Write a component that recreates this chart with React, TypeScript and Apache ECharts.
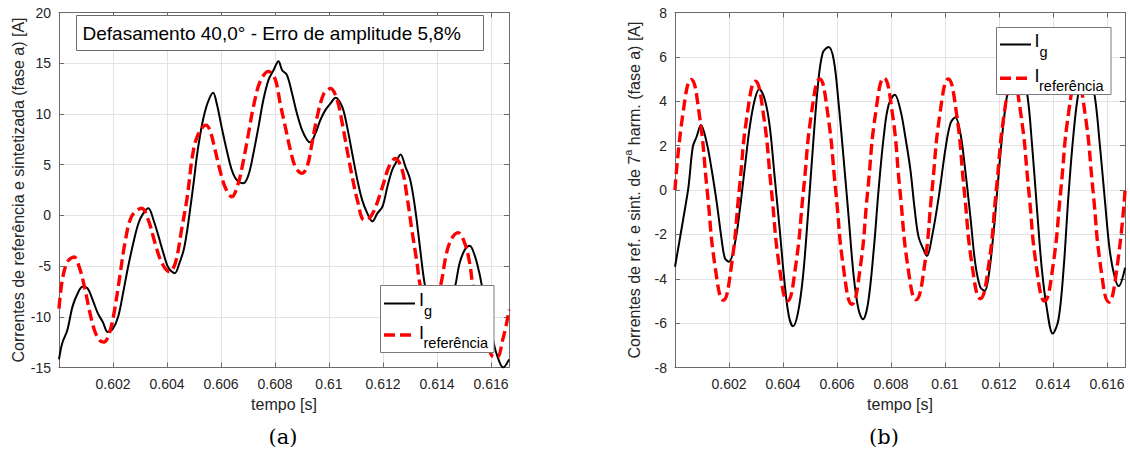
import React, { useEffect, useRef } from "react";
import * as echarts from "echarts";

// ---------- data ----------
// (a) left plot: total current, I_g (black) and I_referência (red dashed)
const tA_g = [
  0.6, 0.60012, 0.60031, 0.6005, 0.60069, 0.60087, 0.60106, 0.60125, 0.60144, 0.60162,
  0.60181, 0.602, 0.60219, 0.60237, 0.60256, 0.60275, 0.60294, 0.60312, 0.60331, 0.6035,
  0.60369, 0.60387, 0.60406, 0.60429, 0.60446, 0.60462, 0.60475, 0.60487, 0.605, 0.60512,
  0.60531, 0.6055, 0.60571, 0.60584, 0.60602, 0.60621, 0.6064, 0.60658, 0.60683, 0.60702,
  0.6072, 0.60739, 0.60757, 0.60776, 0.60795, 0.60813, 0.60826, 0.60844, 0.60863, 0.60881,
  0.609, 0.60919, 0.60931, 0.6095, 0.60968, 0.60987, 0.61006, 0.61024, 0.61049, 0.61067,
  0.61086, 0.61105, 0.61123, 0.61142, 0.61161, 0.61179, 0.61198, 0.61216, 0.61234, 0.61246,
  0.61265, 0.61283, 0.61301, 0.6132, 0.61338, 0.61354, 0.61375, 0.614, 0.61425, 0.61448,
  0.61468, 0.61484, 0.61503, 0.61521, 0.61539, 0.61557, 0.61566, 0.6159, 0.6161, 0.61625,
  0.61645, 0.61667,
];
const iA_g = [
  -14.2, -12.6, -11.3, -9.0, -7.7, -7.04, -7.2, -8.36, -9.67, -10.5,
  -11.5, -11.15, -10.0, -7.7, -5.07, -2.76, -0.8, 0.2, 0.7, -0.46,
  -2.1, -3.75, -5.2, -5.7, -4.7, -3.4, -1.45, 0.86, 3.5, 6.1,
  9.1, 11.05, 12.1, 11.05, 8.75, 6.45, 4.47, 3.5, 3.16, 4.0,
  6.1, 8.75, 11.4, 13.36, 14.34, 15.2, 14.34, 13.85, 12.04, 10.07,
  8.42, 7.43, 7.2, 8.1, 9.4, 10.4, 11.05, 11.6, 10.7, 8.75,
  6.1, 3.5, 1.5, 0.2, -0.6, 0.2, 0.86, 2.8, 4.47, 5.1,
  6.0, 4.8, 3.5, 0.5, -3.4, -6.7, -9.2, -10.3, -10.0, -8.8,
  -6.9, -4.7, -3.4, -3.0, -3.9, -5.7, -6.9, -9.8, -12.6, -14.0,
  -15.0, -14.2,
];
const tA_ref = [
  0.6, 0.60012, 0.60031, 0.60056, 0.60075, 0.60094, 0.60112, 0.60131, 0.6015, 0.60166,
  0.60187, 0.60206, 0.60225, 0.60244, 0.60269, 0.60306, 0.60331, 0.60356, 0.60381, 0.60409,
  0.60431, 0.60456, 0.60475, 0.60494, 0.60512, 0.60544, 0.60559, 0.60578, 0.60596, 0.60615,
  0.6064, 0.60664, 0.60683, 0.60702, 0.6072, 0.60745, 0.60776, 0.60801, 0.60819, 0.60838,
  0.60857, 0.60875, 0.609, 0.60919, 0.60937, 0.60956, 0.60981, 0.61006, 0.6103, 0.61049,
  0.61067, 0.61086, 0.61105, 0.6113, 0.61152, 0.61173, 0.61198, 0.61222, 0.61246, 0.61271,
  0.61289, 0.61307, 0.61326, 0.61338, 0.6136, 0.6138, 0.614, 0.61415, 0.61435, 0.61454,
  0.61478, 0.61503, 0.61521, 0.61533, 0.6156, 0.61585, 0.6161, 0.61625, 0.61643, 0.61655,
  0.61667,
];
const iA_ref = [
  -9.2, -6.4, -4.6, -4.1, -5.1, -7.0, -9.3, -11.3, -12.3, -12.5,
  -11.6, -9.3, -6.05, -2.76, -0.1, 0.7, -0.46, -2.76, -4.7, -5.56,
  -4.7, -1.1, 1.8, 5.8, 7.76, 8.9, 8.4, 6.45, 4.47, 2.8,
  1.84, 3.16, 5.4, 8.1, 10.7, 13.2, 14.2, 13.4, 11.05, 8.75,
  6.45, 4.8, 4.14, 4.8, 7.1, 9.7, 12.0, 12.5, 11.4, 9.1,
  6.45, 3.8, 1.5, -0.46, -0.2, 0.86, 2.8, 4.8, 5.6, 4.47,
  1.84, -1.45, -4.7, -6.9, -8.3, -8.6, -7.8, -6.7, -3.75, -2.3,
  -1.7, -2.76, -4.7, -6.9, -9.8, -12.5, -13.95, -13.95, -12.3, -11.0,
  -9.3,
];

// (b) right plot: 7th harmonic, I_g (black) and I_referência (red dashed)
const tB_g = [
  0.6, 0.60032, 0.6005, 0.60066, 0.6008, 0.60096, 0.60118, 0.60136, 0.60155, 0.60173,
  0.60185, 0.602, 0.60222, 0.6024, 0.60259, 0.60277, 0.60296, 0.60312, 0.60333, 0.60351,
  0.60369, 0.60388, 0.60406, 0.60422, 0.60437, 0.60455, 0.60474, 0.60492, 0.6051, 0.60529,
  0.60547, 0.60569, 0.60588, 0.60606, 0.60625, 0.60643, 0.60662, 0.6068, 0.60696, 0.60715,
  0.60736, 0.60754, 0.60773, 0.60791, 0.60814, 0.60835, 0.60853, 0.60872, 0.60888, 0.60902,
  0.60921, 0.60933, 0.60952, 0.60977, 0.61001, 0.6102, 0.61038, 0.61057, 0.61075, 0.61094,
  0.61112, 0.6113, 0.61147, 0.61163, 0.61182, 0.612, 0.61218, 0.61237, 0.61262, 0.61285,
  0.61304, 0.61322, 0.61341, 0.61359, 0.61378, 0.61399, 0.6142, 0.61439, 0.61457, 0.61475,
  0.61494, 0.61515, 0.61535, 0.61555, 0.61573, 0.61591, 0.6161, 0.61628, 0.61643, 0.61667,
];
const iB_g = [
  -3.46, -1.2, 0.15, 1.95, 2.4, 2.93, 2.1, 0.9, -0.6, -2.26,
  -3.08, -3.23, -2.4, -0.9, 1.05, 2.86, 4.1, 4.54, 4.06, 2.86,
  0.6, -1.8, -4.2, -5.7, -6.14, -5.56, -3.9, -1.2, 1.8, 4.66,
  6.17, 6.44, 5.86, 3.9, 1.35, -1.2, -3.9, -5.4, -5.83, -5.1,
  -2.7, 0.0, 2.4, 3.83, 4.29, 3.6, 2.4, 0.9, -0.9, -2.1,
  -2.7, -2.98, -2.1, -0.3, 1.8, 3.0, 3.28, 2.56, 0.9, -1.2,
  -3.3, -4.36, -4.55, -3.76, -1.65, 0.9, 3.16, 4.66, 5.2, 5.0,
  4.36, 2.1, -0.9, -3.6, -5.4, -6.47, -5.86, -3.6, -0.3, 2.4,
  4.36, 5.2, 5.1, 4.2, 2.1, -0.3, -2.7, -3.9, -4.33, -3.5,
];
const tB_ref = [
  0.6, 0.6003, 0.6006, 0.60089, 0.60119, 0.60149, 0.60179, 0.60208,
  0.60238, 0.60268, 0.60298, 0.60327, 0.60357, 0.60387, 0.60417, 0.60446,
  0.60476, 0.60506, 0.60536, 0.60565, 0.60595, 0.60625, 0.60655, 0.60685,
  0.60714, 0.60744, 0.60774, 0.60804, 0.60833, 0.60863, 0.60893, 0.60923,
  0.60952, 0.60982, 0.61012, 0.61042, 0.61071, 0.61101, 0.61131, 0.61161,
  0.6119, 0.6122, 0.6125, 0.6128, 0.6131, 0.61339, 0.61369, 0.61399,
  0.61429, 0.61458, 0.61488, 0.61518, 0.61548, 0.61577, 0.61607, 0.61637,
  0.61667,
];
const iB_ref = [
  0, 3.5, 4.98, 3.5, 0, -3.5, -4.97, -3.5,
  0, 3.45, 4.9, 3.45, 0, -3.5, -5.0, -3.5,
  0, 3.5, 5.0, 3.5, 0, -3.6, -5.15, -3.6,
  0, 3.55, 5.05, 3.55, 0, -3.5, -4.95, -3.5,
  0, 3.5, 5.0, 3.5, 0, -3.45, -4.9, -3.45,
  0, 3.5, 5.0, 3.5, 0, -3.5, -5.0, -3.5,
  0, 3.5, 5.0, 3.5, 0, -3.5, -5.05, -3.5,
  0,
];

const xTickMin = 0.6;
const xTickMax = 0.616667;
const xTickStep = 0.002;
const yA = { min: -15, max: 20, step: 5 };
const yB = { min: -8, max: 8, step: 2 };

const annotation = "Defasamento 40,0° - Erro de amplitude 5,8%";
const xName = "tempo [s]";
const yNameA = "Correntes de referência e sintetizada (fase a) [A]";
const yNameB = "{n|Correntes de ref. e sint. de 7}{s|a}{n| harm. (fase a) [A]}";
const legendMain = "I";
const legendSubs = ["g", "referência"];
const captions = ["(a)", "(b)"];

const SANS = "'Liberation Sans', Arial, sans-serif";
const SERIF = "'DejaVu Serif', 'Liberation Serif', serif";
const AXIS_COLOR = "#6b6b6b";
const TEXT_COLOR = "#262626";
const GRID_COLOR = "#e3e3e3";
const RED = "#ff0000";

function pairs(t: number[], v: number[]) {
  return t.map((x, i) => [x, v[i]]);
}

function xAxisPair(gridIndex: number) {
  const base = {
    type: "value" as const,
    gridIndex,
    min: xTickMin,
    max: xTickMax,
    interval: xTickStep,
    axisLine: { show: true, onZero: false, lineStyle: { color: AXIS_COLOR, width: 1 } },
    axisTick: { show: true, inside: true, length: 5, lineStyle: { color: AXIS_COLOR } },
  };
  return [
    {
      ...base,
      position: "bottom",
      name: xName,
      nameLocation: "middle",
      nameGap: 29,
      nameTextStyle: { fontFamily: SANS, fontSize: 16, color: TEXT_COLOR },
      axisLabel: {
        show: true,
        fontFamily: SANS,
        fontSize: 14,
        color: TEXT_COLOR,
        margin: 9,
        showMinLabel: false,
        showMaxLabel: false,
      },
      splitLine: { show: true, lineStyle: { color: GRID_COLOR, width: 1 } },
    },
    {
      ...base,
      position: "top",
      axisLabel: { show: false },
      splitLine: { show: false },
    },
  ];
}

function yAxisPair(gridIndex: number, r: { min: number; max: number; step: number }, name: string, rich?: any) {
  const base = {
    type: "value" as const,
    gridIndex,
    min: r.min,
    max: r.max,
    interval: r.step,
    axisLine: { show: true, onZero: false, lineStyle: { color: AXIS_COLOR, width: 1 } },
    axisTick: { show: true, inside: true, length: 5, lineStyle: { color: AXIS_COLOR } },
  };
  return [
    {
      ...base,
      position: "left",
      name,
      nameLocation: "middle",
      nameRotate: 90,
      nameGap: 33,
      nameTextStyle: rich
        ? { rich }
        : { fontFamily: SANS, fontSize: 16, color: TEXT_COLOR },
      axisLabel: { show: true, fontFamily: SANS, fontSize: 14, color: TEXT_COLOR, margin: 8 },
      splitLine: { show: true, lineStyle: { color: GRID_COLOR, width: 1 } },
    },
    {
      ...base,
      position: "right",
      axisLabel: { show: false },
      splitLine: { show: false },
    },
  ];
}

function legendGraphics(
  box: { x: number; y: number; w: number; h: number },
  lineX: [number, number],
  row1: number,
  row2: number,
  textX: number
) {
  return [
    {
      type: "rect",
      shape: { x: box.x, y: box.y, width: box.w, height: box.h },
      style: { fill: "#ffffff", stroke: "#7a7a7a", lineWidth: 1 },
      z: 100,
    },
    {
      type: "line",
      shape: { x1: lineX[0], y1: row1, x2: lineX[1], y2: row1 },
      style: { stroke: "#000000", lineWidth: 2 },
      z: 101,
    },
    {
      type: "text",
      x: textX,
      y: row1 - 4,
      style: { text: legendMain, fontFamily: SANS, fontSize: 18, fill: "#000", verticalAlign: "middle", align: "left" },
      z: 101,
    },
    {
      type: "text",
      x: textX + 5,
      y: row1 + 7,
      style: { text: legendSubs[0], fontFamily: SANS, fontSize: 14.5, fill: "#000", verticalAlign: "middle", align: "left" },
      z: 101,
    },
    {
      type: "line",
      shape: { x1: lineX[0], y1: row2, x2: lineX[1], y2: row2 },
      style: { stroke: RED, lineWidth: 3.4, lineDash: [11, 5] },
      z: 101,
    },
    {
      type: "text",
      x: textX,
      y: row2 - 2,
      style: { text: legendMain, fontFamily: SANS, fontSize: 18, fill: "#000", verticalAlign: "middle", align: "left" },
      z: 101,
    },
    {
      type: "text",
      x: textX + 4.5,
      y: row2 + 8,
      style: { text: legendSubs[1], fontFamily: SANS, fontSize: 14.5, fill: "#000", verticalAlign: "middle", align: "left" },
      z: 101,
    },
  ];
}

export default function App() {
  const ref = useRef<HTMLDivElement>(null);

  useEffect(() => {
    if (!ref.current) return;
    const chart = echarts.init(ref.current, undefined, { renderer: "svg" });

    const [xa0, xa1] = xAxisPair(0);
    const [xb0, xb1] = xAxisPair(1);
    const [ya0, ya1] = yAxisPair(0, yA, yNameA);
    const [yb0, yb1] = yAxisPair(1, yB, yNameB, {
      n: { fontFamily: SANS, fontSize: 16, color: TEXT_COLOR, lineHeight: 20, verticalAlign: "bottom" },
      s: { fontFamily: SANS, fontSize: 11, color: TEXT_COLOR, lineHeight: 12, verticalAlign: "top" },
    });

    const option: any = {
      animation: false,
      backgroundColor: "#ffffff",
      grid: [
        { left: 59, top: 12.5, width: 450, height: 355, containLabel: false },
        { left: 675, top: 12.5, width: 450, height: 355, containLabel: false },
      ],
      xAxis: [xa0, xa1, xb0, xb1],
      yAxis: [ya0, ya1, yb0, yb1],
      series: [
        {
          name: "I_referência (a)",
          type: "line",
          xAxisIndex: 0,
          yAxisIndex: 0,
          data: pairs(tA_ref, iA_ref),
          smooth: 0.35,
          showSymbol: false,
          lineStyle: { color: RED, width: 3.4, type: [11, 5] },
          z: 3,
        },
        {
          name: "I_g (a)",
          type: "line",
          xAxisIndex: 0,
          yAxisIndex: 0,
          data: pairs(tA_g, iA_g),
          smooth: 0.35,
          showSymbol: false,
          lineStyle: { color: "#000000", width: 2 },
          z: 2,
        },
        {
          name: "I_g (b)",
          type: "line",
          xAxisIndex: 2,
          yAxisIndex: 2,
          data: pairs(tB_g, iB_g),
          smooth: 0.35,
          showSymbol: false,
          lineStyle: { color: "#000000", width: 2 },
          z: 2,
        },
        {
          name: "I_referência (b)",
          type: "line",
          xAxisIndex: 2,
          yAxisIndex: 2,
          data: pairs(tB_ref, iB_ref),
          smooth: 0.5,
          showSymbol: false,
          lineStyle: { color: RED, width: 3.4, type: [11, 5] },
          z: 3,
        },
      ],
      graphic: [
        {
          type: "rect",
          shape: { x: 76.5, y: 15.5, width: 407, height: 35 },
          style: { fill: "#ffffff", stroke: "#6b6b6b", lineWidth: 1 },
          z: 100,
        },
        {
          type: "text",
          x: 82.5,
          y: 33,
          style: { text: annotation, fontFamily: SANS, fontSize: 19, fill: "#000", verticalAlign: "middle", align: "left" },
          z: 101,
        },
        ...legendGraphics({ x: 380.5, y: 285.5, w: 113.5, h: 67 }, [384, 415], 303.5, 335, 419),
        ...legendGraphics({ x: 996.5, y: 27.5, w: 114.5, h: 67 }, [1000, 1031], 44.5, 78.3, 1034.5),
        {
          type: "text",
          x: 283,
          y: 437,
          style: { text: captions[0], fontFamily: SERIF, fontSize: 21, fill: "#000", verticalAlign: "middle", align: "center" },
        },
        {
          type: "text",
          x: 884,
          y: 437,
          style: { text: captions[1], fontFamily: SERIF, fontSize: 21, fill: "#000", verticalAlign: "middle", align: "center" },
        },
      ],
    };

    chart.setOption(option);
    return () => chart.dispose();
  }, []);

  return (
    <div
      ref={ref}
      style={{ position: "fixed", left: 0, top: 0, width: 1130, height: 452, background: "#fff" }}
    />
  );
}
